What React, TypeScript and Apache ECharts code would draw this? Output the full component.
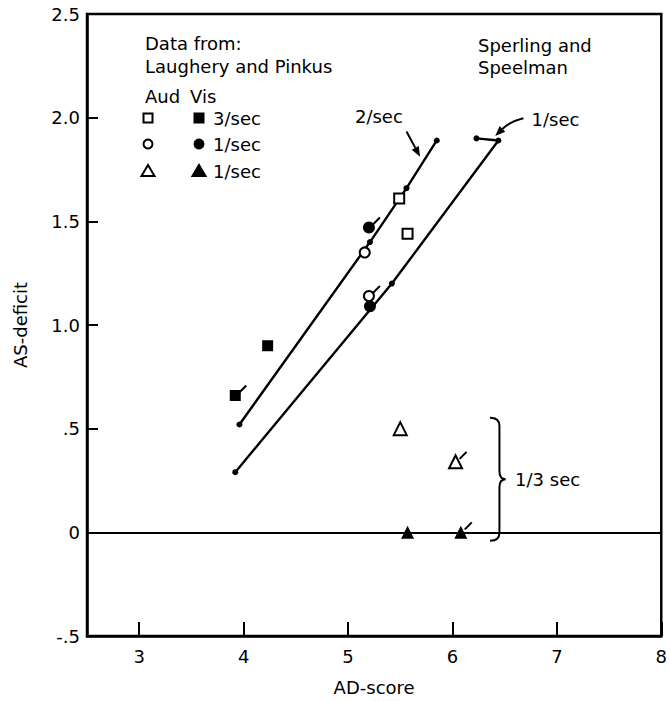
import React, { useEffect, useRef } from "react";
import * as echarts from "echarts";

// ---- axis ticks ----
const xTickValues = [3, 4, 5, 6, 7, 8];
const yTickValues = [-0.5, 0, 0.5, 1, 1.5, 2, 2.5];
const yTickLabels = ["-.5", "0", ".5", "1.0", "1.5", "2.0", "2.5"];

// ---- Laughery and Pinkus data ----
const audSquare = [[5.49, 1.61], [5.57, 1.44]];
const visSquare = [[4.23, 0.9], [3.92, 0.66]];
const audCircle = [[5.16, 1.35], [5.2, 1.14]];
const visCircle = [[5.2, 1.47], [5.21, 1.09]];
const audTriangle = [[5.5, 0.5], [6.03, 0.34]];
const visTriangle = [[5.57, 0.0], [6.08, 0.0]];
const flaggedPoints = [[3.92, 0.66], [5.2, 1.47], [5.2, 1.14], [6.03, 0.34], [6.08, 0.0]];

// ---- Sperling and Speelman lines ----
const sperling2PerSec = [[3.96, 0.52], [5.21, 1.4], [5.56, 1.66], [5.85, 1.89]];
const sperling1PerSec = [[3.92, 0.29], [5.42, 1.2], [6.44, 1.89], [6.23, 1.9]];

// ---- annotations (data coordinates) ----
const arrowCurves = [
  [5.56, 1.933, 5.625, 1.872, 5.69, 1.812],
  [6.68, 1.997, 6.55, 1.981, 6.41, 1.912],
];
const annoTexts = ["2/sec", "1/sec", "1/3 sec"];
const annoPos = [[5.066, 2.005], [6.758, 1.989], [6.6, 0.256]];
const braceX = [6.36, 6.45, 6.51];
const braceY = [0.553, 0.256, -0.041];

const FONT = "DejaVu Sans";
const fontStr = `18px "${FONT}"`;

export default function App() {
  const ref = useRef<HTMLDivElement>(null);
  useEffect(() => {
    if (!ref.current) return;
    const chart = echarts.init(ref.current, undefined, { renderer: "svg" });

    const scatter = (data: number[][], symbol: string, size: number, open: boolean) => ({
      type: "scatter",
      data,
      symbol,
      symbolSize: size,
      z: 5,
      itemStyle: open
        ? { color: "#fff", borderColor: "#000", borderWidth: 2, opacity: 1 }
        : { color: "#000", opacity: 1 },
    });

    const sperlingLine = (data: number[][], withZero: boolean) => ({
      type: "line",
      data,
      symbol: "circle",
      symbolSize: 6,
      showSymbol: true,
      z: 3,
      lineStyle: { color: "#000", width: 2.4 },
      itemStyle: { color: "#000" },
      markLine: withZero
        ? {
            silent: true,
            symbol: ["none", "none"],
            label: { show: false },
            lineStyle: { color: "#000", width: 2.2, type: "solid" },
            data: [{ yAxis: 0 }],
          }
        : undefined,
    });

    const legendRows = [
      { y: 118, label: "3/sec", shape: "square" },
      { y: 144, label: "1/sec", shape: "circle" },
      { y: 171, label: "1/sec", shape: "triangle" },
    ];
    const legendGraphics: any[] = [];
    const txt = (text: string, x: number, y: number) => ({
      type: "text",
      x,
      y,
      style: { text, font: fontStr, fill: "#000", verticalAlign: "middle", align: "left" },
    });
    legendGraphics.push(txt("Data from:", 145, 43));
    legendGraphics.push(txt("Laughery and Pinkus", 145, 66));
    legendGraphics.push(txt("Aud", 145, 96));
    legendGraphics.push(txt("Vis", 190, 96));
    legendGraphics.push(txt("Sperling and", 478, 45));
    legendGraphics.push(txt("Speelman", 478, 67));
    legendRows.forEach((r) => {
      [148, 199].forEach((cx, i) => {
        const fill = i === 0 ? "#fff" : "#000";
        const style = { fill, stroke: "#000", lineWidth: 2 };
        if (r.shape === "square") {
          legendGraphics.push({ type: "rect", shape: { x: cx - 4.5, y: r.y - 4.5, width: 9, height: 9 }, style });
        } else if (r.shape === "circle") {
          legendGraphics.push({ type: "circle", shape: { cx, cy: r.y, r: 4.5 }, style });
        } else {
          legendGraphics.push({
            type: "polygon",
            shape: { points: [[cx, r.y - 6], [cx + 6.5, r.y + 5], [cx - 6.5, r.y + 5]] },
            style,
          });
        }
      });
      legendGraphics.push(txt(r.label, 213, r.y));
    });

    const option: any = {
      animation: false,
      backgroundColor: "#fff",
      textStyle: { fontFamily: FONT },
      grid: {
        left: 87,
        right: 2,
        top: 14,
        bottom: 64,
        show: true,
        borderColor: "#000",
        borderWidth: 2.5,
        backgroundColor: "transparent",
      },
      xAxis: {
        type: "value",
        min: 2.5,
        max: 8,
        name: "AD-score",
        nameLocation: "middle",
        nameGap: 42,
        nameTextStyle: { fontSize: 18, color: "#000", fontFamily: FONT },
        splitLine: { show: false },
        axisLine: { show: true, onZero: false, lineStyle: { color: "#000", width: 2.5 } },
        axisTick: { show: true, inside: true, length: 14, lineStyle: { color: "#000", width: 2 }, customValues: xTickValues },
        axisLabel: { show: true, fontSize: 18, color: "#000", margin: 11, fontFamily: FONT, customValues: xTickValues },
      },
      yAxis: {
        type: "value",
        min: -0.5,
        max: 2.5,
        interval: 0.5,
        name: "AS-deficit",
        nameLocation: "middle",
        nameGap: 58,
        nameTextStyle: { fontSize: 18, color: "#000", fontFamily: FONT },
        splitLine: { show: false },
        axisLine: { show: true, onZero: false, lineStyle: { color: "#000", width: 2.5 } },
        axisTick: { show: true, inside: true, length: 11, lineStyle: { color: "#000", width: 2 } },
        axisLabel: {
          show: true,
          fontSize: 18,
          color: "#000",
          margin: 7,
          fontFamily: FONT,
          formatter: (v: number) => {
            const i = yTickValues.findIndex((t) => Math.abs(t - v) < 1e-9);
            return i >= 0 ? yTickLabels[i] : "";
          },
        },
      },
      graphic: legendGraphics,
      series: [
        sperlingLine(sperling2PerSec, true),
        sperlingLine(sperling1PerSec, false),
        scatter(audSquare, "rect", 10, true),
        scatter(visSquare, "rect", 11, false),
        scatter(audCircle, "circle", 10, true),
        scatter(visCircle, "circle", 12, false),
        scatter(audTriangle, "triangle", 13, true),
        scatter(visTriangle, "triangle", 13, false),
        {
          type: "custom",
          coordinateSystem: "cartesian2d",
          data: flaggedPoints,
          z: 6,
          clip: false,
          renderItem: (params: any, api: any) => {
            const p = api.coord([api.value(0), api.value(1)]);
            return {
              type: "line",
              shape: { x1: p[0] + 4, y1: p[1] - 3, x2: p[0] + 11, y2: p[1] - 10 },
              style: { stroke: "#000", lineWidth: 2 },
            };
          },
        },
        {
          type: "custom",
          coordinateSystem: "cartesian2d",
          data: arrowCurves.map((a) => [a[4], a[5]]),
          z: 6,
          clip: false,
          renderItem: (params: any, api: any) => {
            const a = arrowCurves[params.dataIndex];
            const p1 = api.coord([a[0], a[1]]);
            const c = api.coord([a[2], a[3]]);
            const p2 = api.coord([a[4], a[5]]);
            const dx = p2[0] - c[0];
            const dy = p2[1] - c[1];
            const len = Math.sqrt(dx * dx + dy * dy) || 1;
            const ux = dx / len, uy = dy / len;
            const px = -uy, py = ux;
            const L = 10, W = 4;
            const bx = p2[0] - ux * L, by = p2[1] - uy * L;
            return {
              type: "group",
              children: [
                {
                  type: "path",
                  shape: { pathData: `M${p1[0]},${p1[1]} Q${c[0]},${c[1]} ${bx},${by}` },
                  style: { fill: "none", stroke: "#000", lineWidth: 2 },
                },
                {
                  type: "polygon",
                  shape: { points: [[p2[0], p2[1]], [bx + px * W, by + py * W], [bx - px * W, by - py * W]] },
                  style: { fill: "#000" },
                },
              ],
            };
          },
        },
        {
          type: "custom",
          coordinateSystem: "cartesian2d",
          data: [[braceX[1], braceY[1]]],
          z: 6,
          clip: false,
          renderItem: (params: any, api: any) => {
            const top = api.coord([braceX[0], braceY[0]]);
            const tip = api.coord([braceX[2], braceY[1]]);
            const bot = api.coord([braceX[0], braceY[2]]);
            const xv = api.coord([braceX[1], 0])[0];
            const r = 8;
            const d =
              `M${top[0]},${top[1]} Q${xv},${top[1]} ${xv},${top[1] + r} ` +
              `L${xv},${tip[1] - r} Q${xv},${tip[1]} ${tip[0]},${tip[1]} ` +
              `Q${xv},${tip[1]} ${xv},${tip[1] + r} ` +
              `L${xv},${bot[1] - r} Q${xv},${bot[1]} ${bot[0]},${bot[1]}`;
            return {
              type: "path",
              shape: { pathData: d },
              style: { fill: "none", stroke: "#000", lineWidth: 2 },
            };
          },
        },
        {
          type: "custom",
          coordinateSystem: "cartesian2d",
          data: annoPos,
          z: 6,
          clip: false,
          renderItem: (params: any, api: any) => {
            const p = api.coord([api.value(0), api.value(1)]);
            return {
              type: "text",
              x: p[0],
              y: p[1],
              style: {
                text: annoTexts[params.dataIndex],
                font: fontStr,
                fill: "#000",
                verticalAlign: "middle",
                align: "left",
              },
            };
          },
        },
      ],
    };
    chart.setOption(option);
    return () => chart.dispose();
  }, []);

  return (
    <div
      ref={ref}
      style={{ position: "absolute", left: 0, top: 0, width: 670, height: 701, background: "#fff" }}
    />
  );
}
